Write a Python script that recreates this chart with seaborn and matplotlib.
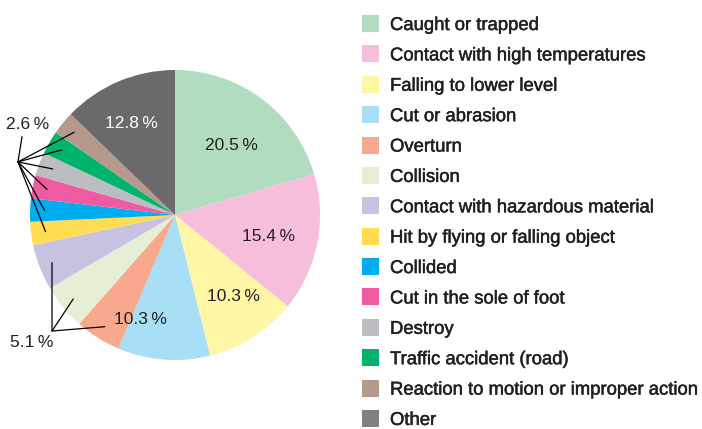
import numpy as np
import matplotlib
matplotlib.use("Agg")
import matplotlib.pyplot as plt
import matplotlib.patheffects as pe
from matplotlib.patches import Rectangle
import seaborn as sns

sns.set_theme(style="white")
plt.rcParams["font.family"] = ["Liberation Sans", "DejaVu Sans"]

categories = [
    "Caught or trapped",
    "Contact with high temperatures",
    "Falling to lower level",
    "Cut or abrasion",
    "Overturn",
    "Collision",
    "Contact with hazardous material",
    "Hit by flying or falling object",
    "Collided",
    "Cut in the sole of foot",
    "Destroy",
    "Traffic accident (road)",
    "Reaction to motion or improper action",
    "Other",
]
shares = [20.5, 15.4, 10.3, 10.3, 5.1, 5.1, 5.1, 2.6, 2.6, 2.6, 2.6, 2.6, 2.6, 12.8]
slice_colors = [
    "#b2dcc0", "#f7bedb", "#fff6a6", "#a9def7", "#f8a98d", "#e4efd5", "#c7c2e0",
    "#ffdc50", "#00adee", "#ef5ba1", "#bcbdc0", "#00b36d", "#b59a8c", "#6a6a6a",
]
legend_colors = slice_colors[:-1] + ["#7f8084"]

# placement of the in-slice labels: (radius, angular nudge in degrees)
inside_label_pos = {0: (0.62, -2.3), 1: (0.66, -1.8), 2: (0.69, 3.1),
                    3: (0.76, -13.7), 13: (0.70, 2.7)}
# groups of small slices sharing one callout label
callout_groups = {"5.1": [4, 5, 6], "2.6": [7, 8, 9, 10, 11, 12]}

W, H, DPI = 702, 429, 100
fig = plt.figure(figsize=(W / DPI, H / DPI), dpi=DPI)

# pie axes: centre (175, 215) px, radius 145 px
cx, cy, R = 175, 215, 145
ax = fig.add_axes([(cx - R) / W, (H - cy - R) / H, 2 * R / W, 2 * R / H])

wedges, _ = ax.pie(shares, colors=slice_colors, startangle=90, counterclock=False,
                   radius=1.0, wedgeprops=dict(linewidth=0))
ax.set_xlim(-1, 1)
ax.set_ylim(-1, 1)
ax.set_aspect("equal")
ax.axis("off")


def mid_point(w, r, nudge=0.0):
    ang = np.deg2rad((w.theta1 + w.theta2) / 2 + nudge)
    return r * np.cos(ang), r * np.sin(ang)


def pct(v):
    return f"{v:.1f}\u2009%"


# labels inside the larger slices
for i, (r, nudge) in inside_label_pos.items():
    x, y = mid_point(wedges[i], r, nudge)
    col = "white" if i == len(shares) - 1 else "#231f20"
    ax.text(x, y, pct(shares[i]), ha="center", va="center",
            fontsize=12.5, color=col)

# callouts for the small slices
line_kw = dict(color="black", lw=0.9, clip_on=False)

hub = (-1.083, 0.366)
for i in callout_groups["2.6"]:
    x, y = mid_point(wedges[i], 0.9)
    ax.plot([hub[0], x], [hub[1], y], **line_kw)
ax.plot([hub[0], -1.055], [hub[1], 0.54], **line_kw)
ax.text(-1.014, 0.621, pct(shares[callout_groups["2.6"][0]]), ha="center",
        va="center", fontsize=12.5, color="#231f20", clip_on=False)

hub = (-0.848, -0.80)
for i in callout_groups["5.1"]:
    x, y = mid_point(wedges[i], 0.91)
    ax.plot([hub[0], x], [hub[1], y], **line_kw)
ax.text(-0.986, -0.876, pct(shares[callout_groups["5.1"][0]]), ha="center",
        va="center", fontsize=12.5, color="#231f20", clip_on=False)

# legend column
sq = 17
x_sq = 362
y0, step = 23.5, 30.38
bolder = [pe.withStroke(linewidth=0.35, foreground="#231f20")]
for k, (name, col) in enumerate(zip(categories, legend_colors)):
    yc = y0 + k * step
    fig.patches.append(Rectangle((x_sq / W, (H - yc - sq / 2) / H), sq / W, sq / H,
                                 transform=fig.transFigure, facecolor=col,
                                 edgecolor="none"))
    fig.text(390 / W, (H - yc) / H, name, ha="left", va="center_baseline",
             fontsize=13.3, color="#231f20", path_effects=bolder)

fig.savefig("out.png", dpi=DPI)
